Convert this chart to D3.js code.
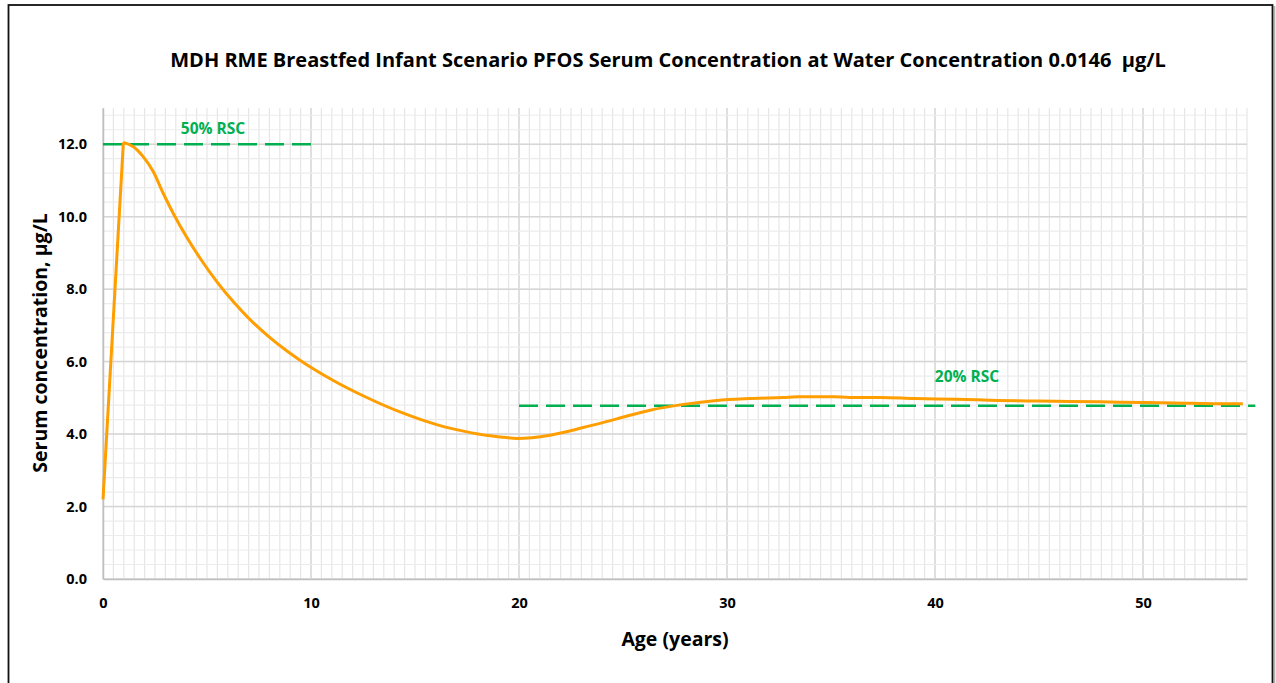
<!DOCTYPE html>
<html>
<head>
<meta charset="utf-8">
<script src="https://cdn.jsdelivr.net/npm/d3@7"></script>
<style>
  html, body { margin: 0; padding: 0; background: #fff; }
  svg { display: block; }
  text { font-family: "Open Sans", Lato, "DejaVu Sans", sans-serif; font-weight: bold; white-space: pre; }
</style>
</head>
<body>
<svg id="chart" width="1276" height="683"></svg>
<script>
// Serum concentration curve (µg/L) by age (years)
const ageYears = [0, 0.98, 1.46, 1.94, 2.42, 2.9, 3.38, 4.02, 4.66, 5.47, 6.27, 7.07, 7.87, 8.83, 9.47, 9.95,
  11.07, 12.68, 14.28, 16.04, 17.5, 18.5, 19.3, 19.89, 21.49, 23.09, 24.7, 26.3, 27.9, 29.5,
  31.1, 32.7, 33.5, 35.1, 35.9, 37.4, 39, 41, 43, 45, 47.9, 50, 51.5, 53.7, 54.8];
const serumConc = [2.2, 12.05, 11.93, 11.65, 11.24, 10.64, 10.09, 9.44, 8.86, 8.21, 7.65, 7.16, 6.74, 6.3, 6.04, 5.86,
  5.48, 5.01, 4.61, 4.26, 4.06, 3.96, 3.91, 3.88, 3.97, 4.18, 4.42, 4.66, 4.82, 4.93,
  4.98, 5.01, 5.03, 5.03, 5.01, 5.01, 4.98, 4.96, 4.93, 4.91, 4.89, 4.87, 4.86, 4.84, 4.84];

// Relative source contribution reference lines
const rscLabels = ["50% RSC", "20% RSC"];
const rscValues = [12.0, 4.78];
const rscStart = [0, 20];
const rscEnd = [10, 55.4];

// Axis ticks
const xTicks = [0, 10, 20, 30, 40, 50];
const yTicks = [0, 2, 4, 6, 8, 10, 12];

const titleText = "MDH RME Breastfed Infant Scenario PFOS Serum Concentration at Water Concentration 0.0146  µg/L";
const xTitle = "Age (years)";
const yTitle = "Serum concentration, µg/L";

const svg = d3.select("#chart");
const W = 1276, H = 683;
const plot = { left: 103, right: 1247, top: 108, bottom: 579 };

const x = d3.scaleLinear().domain([0, 55]).range([plot.left, plot.right]);
const y = d3.scaleLinear().domain([0, 13]).range([plot.bottom, plot.top]);

// Outer frame
svg.append("rect").attr("x", 0).attr("y", 0).attr("width", W).attr("height", H).attr("fill", "#fff");
svg.append("line").attr("x1", 1274.5).attr("x2", 1274.5).attr("y1", 6).attr("y2", H)
  .attr("stroke", "#b0b0b0").attr("stroke-width", 1.5);
svg.append("rect").attr("x", 8.5).attr("y", 5).attr("width", 1264).attr("height", H + 10)
  .attr("fill", "none").attr("stroke", "#111").attr("stroke-width", 1.8);

// Gridlines
const grid = svg.append("g");
const xMinor = d3.range(0, 55.01, 0.5);
const yMinor = d3.range(0, 12.81, 0.4);
grid.selectAll("line.xm").data(xMinor).join("line")
  .attr("x1", d => x(d)).attr("x2", d => x(d))
  .attr("y1", plot.top).attr("y2", plot.bottom)
  .attr("stroke", d => (Math.abs(d % 10) < 1e-6 ? "#d4d4d4" : "#e6e6e6"))
  .attr("stroke-width", d => (Math.abs(d % 10) < 1e-6 ? 1.5 : 1.2));
grid.selectAll("line.ym").data(yMinor).join("line")
  .attr("x1", plot.left).attr("x2", plot.right)
  .attr("y1", d => y(d)).attr("y2", d => y(d))
  .attr("stroke", "#ececec").attr("stroke-width", 1.2);
grid.selectAll("line.yM").data(yTicks).join("line")
  .attr("x1", plot.left).attr("x2", plot.right)
  .attr("y1", d => y(d)).attr("y2", d => y(d))
  .attr("stroke", "#d6d6d6").attr("stroke-width", 1.5);

// Axes
const xAxis = d3.axisBottom(x).tickValues(xTicks).tickSize(0).tickPadding(19).tickFormat(d3.format("d"));
const yAxis = d3.axisLeft(y).tickValues(yTicks).tickSize(0).tickPadding(16).tickFormat(d3.format(".1f"));
const gx = svg.append("g").attr("transform", `translate(0,${plot.bottom})`).call(xAxis);
const gy = svg.append("g").attr("transform", `translate(${plot.left},0)`).call(yAxis);
[gx, gy].forEach(g => {
  g.select(".domain").attr("stroke", "#bfbfbf").attr("stroke-width", 1.5);
  g.selectAll("text").attr("font-size", 14.5).attr("fill", "#000")
    .attr("font-family", "'Open Sans', Lato, sans-serif").attr("font-weight", "bold");
});

// Reference lines
rscValues.forEach((v, i) => {
  svg.append("line")
    .attr("x1", x(rscStart[i])).attr("x2", x(rscEnd[i]))
    .attr("y1", y(v)).attr("y2", y(v))
    .attr("stroke", "#00B050").attr("stroke-width", 2.5)
    .attr("stroke-dasharray", "19,8");
});
svg.append("text").attr("x", 213).attr("y", 134).attr("text-anchor", "middle")
  .attr("font-size", 15.5).attr("fill", "#00B050").text(rscLabels[0]);
svg.append("text").attr("x", 967).attr("y", 382).attr("text-anchor", "middle")
  .attr("font-size", 15.5).attr("fill", "#00B050").text(rscLabels[1]);

// Serum curve: straight rise to the peak, smooth decline afterwards
const pts = ageYears.map((a, i) => [a, serumConc[i]]);
const riseLine = d3.line().x(d => x(d[0])).y(d => y(d[1]));
svg.append("path").datum(pts.slice(0, 2))
  .attr("d", riseLine)
  .attr("fill", "none").attr("stroke", "#FF9E00").attr("stroke-width", 3);
const smoothLine = d3.line().x(d => x(d[0])).y(d => y(d[1])).curve(d3.curveMonotoneX);
svg.append("path").datum(pts.slice(1))
  .attr("d", smoothLine)
  .attr("fill", "none").attr("stroke", "#FF9E00").attr("stroke-width", 3)
  .attr("stroke-linejoin", "round");

// Titles
svg.append("text").attr("x", 668).attr("y", 67).attr("text-anchor", "middle")
  .attr("font-size", 20).attr("fill", "#000").text(titleText);
svg.append("text").attr("x", 675).attr("y", 646).attr("text-anchor", "middle")
  .attr("font-size", 19.5).attr("fill", "#000").text(xTitle);
svg.append("text").attr("transform", "translate(47,343) rotate(-90)").attr("text-anchor", "middle")
  .attr("font-size", 19.5).attr("fill", "#000").text(yTitle);
</script>
</body>
</html>
